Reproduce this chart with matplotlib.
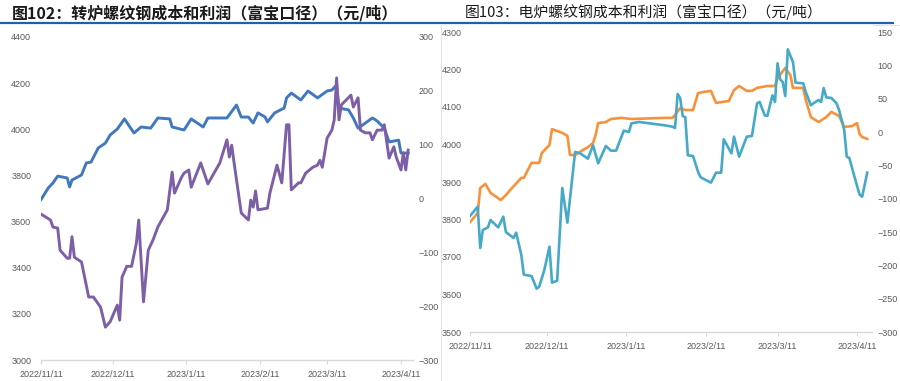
import matplotlib
matplotlib.use("Agg")
import matplotlib.pyplot as plt
import matplotlib.lines as mlines
import pandas as pd

plt.rcParams['font.family'] = ['Noto Sans CJK SC', 'DejaVu Sans']

START = "2022-11-11"

# ---------------- Left chart (图102) ----------------
left_title = "图102：转炉螺纹钢成本和利润（富宝口径）（元/吨）"
lc_days = [0, 3, 5, 7, 11, 12, 13, 17, 19, 21, 24, 27, 29, 32, 35, 39, 42, 46, 49, 54,
           55, 60, 63, 68, 70, 78, 82, 84, 87, 89, 91, 94, 95, 98, 102, 103, 105, 109, 112, 116,
           120, 122, 124, 125, 129, 131, 133, 135, 139, 141, 144, 146, 150, 151, 154]
lc_cost = [3695, 3745, 3767, 3797, 3789, 3750, 3780, 3802, 3854, 3858, 3919, 3940, 3975, 4001, 4045,
           3984, 4010, 4005, 4049, 4045, 4010, 3997, 4045, 4010, 4049, 4049, 4105, 4053, 4053, 4027,
           4071, 4053, 4032, 4071, 4092, 4136, 4157, 4127, 4166, 4136, 4166, 4170, 4192, 4092, 4084,
           4049, 4005, 4019, 4049, 4036, 4005, 3945, 3953, 3897, 3897]
lp_days = [0, 4, 5, 7, 8, 11, 12, 13, 14, 17, 20, 22, 25, 27, 29, 32, 33, 34, 36, 38,
           40, 41, 43, 45, 47, 49, 53, 55, 56, 59, 60, 62, 63, 67, 70, 75, 78, 79, 80, 81,
           84, 87, 88, 89, 90, 91, 95, 96, 99, 101, 103, 104, 105, 108, 109, 111, 114, 116, 117, 118,
           120, 122, 123, 124, 125, 126, 128, 130, 131, 133, 134, 136, 138, 139, 141, 143, 144, 146, 148, 149,
           151, 152, 153, 154]
lp_profit = [-29, -40, -53, -55, -96, -111, -111, -71, -109, -118, -183, -183, -202, -239, -229, -198, -226, -146, -126, -126,
             -83, -40, -192, -96, -77, -53, -21, 49, 10, 40, 47, 53, 21, 66, 27, 66, 109, 77, 99, 66,
             -27, -40, -3, -16, 14, -21, -18, 10, 62, 29, 137, 137, 16, 29, 29, 47, 58, 62, 71, 58,
             112, 127, 146, 224, 146, 174, 183, 192, 170, 187, 127, 122, 122, 109, 127, 127, 137, 75, 96, 77,
             53, 85, 53, 90]
l_yticks = [3000, 3200, 3400, 3600, 3800, 4000, 4200, 4400]
l_y2ticks = [-300, -200, -100, 0, 100, 200, 300]

# ---------------- Right chart (图103) ----------------
right_title = "图103：电炉螺纹钢成本和利润（富宝口径）（元/吨）"
rc_days = [0, 3, 4, 6, 8, 12, 14, 16, 20, 21, 24, 27, 28, 31, 32, 36, 38, 39, 41, 44,
           46, 48, 49, 50, 53, 55, 59, 63, 76, 79, 80, 82, 84, 87, 89, 91, 94, 96, 101, 103,
           105, 108, 110, 112, 116, 119, 120, 123, 125, 126, 130, 131, 133, 136, 139, 141, 144, 146, 149, 151,
           152, 153, 155]
rc_cost = [3793, 3817, 3884, 3895, 3871, 3852, 3865, 3881, 3911, 3911, 3951, 3951, 3977, 3999, 4041,
           4031, 4023, 3972, 3972, 3985, 3993, 4004, 4025, 4057, 4060, 4068, 4071, 4068, 4071, 4071,
           4079, 4097, 4092, 4092, 4137, 4140, 4143, 4111, 4116, 4145, 4156, 4143, 4143, 4151, 4156,
           4156, 4177, 4204, 4185, 4151, 4151, 4119, 4073, 4060, 4073, 4087, 4076, 4047, 4049, 4057,
           4028, 4020, 4015]
rp_days = [0, 3, 4, 5, 7, 8, 11, 13, 14, 17, 18, 20, 21, 24, 26, 27, 29, 31, 32, 34,
           36, 38, 41, 43, 46, 48, 50, 53, 55, 57, 60, 62, 63, 66, 76, 79, 80, 81, 82, 83,
           84, 85, 87, 89, 90, 94, 96, 98, 99, 102, 103, 105, 108, 110, 112, 113, 115, 116, 118, 119,
           120, 121, 122, 123, 124, 126, 127, 130, 131, 133, 134, 136, 137, 138, 139, 141, 143, 144, 146, 147,
           148, 150, 152, 153, 155]
rp_profit = [-126, -112, -174, -147, -143, -132, -143, -127, -150, -159, -151, -184, -214, -216, -235, -232, -207, -172, -226, -223,
             -84, -136, -30, -32, -40, -20, -47, -21, -28, -28, 2, 0, 13, 15, 10, 8, 6, 57, 51, 24,
             22, -35, -36, -60, -68, -76, -61, -61, -11, -32, -7, -37, -7, -6, 43, 45, 25, 24, 55, 45,
             103, 79, 75, 54, 124, 105, 74, 73, 60, 40, 43, 48, 45, 66, 52, 51, 43, 33, 3, -37,
             -39, -67, -94, -97, -61]
r_yticks = [3500, 3600, 3700, 3800, 3900, 4000, 4100, 4200, 4300]
r_y2ticks = [-300, -250, -200, -150, -100, -50, 0, 50, 100, 150]

x_tick_dates = ["2022-11-11", "2022-12-11", "2023-01-11", "2023-02-11", "2023-03-11", "2023-04-11"]
x_tick_labels = ["2022/11/11", "2022/12/11", "2023/1/11", "2023/2/11", "2023/3/11", "2023/4/11"]


def to_dates(days):
    return pd.Timestamp(START) + pd.to_timedelta(days, unit="D")


W, H = 900, 381
fig = plt.figure(figsize=(W / 100, H / 100), dpi=100)

TICK_FONT = dict(family=['Liberation Sans', 'DejaVu Sans'], size=6.5)
TICK_COLOR = "#595959"
SPINE_COLOR = "#d9d9d9"


def px_rect(x0, y0, x1, y1):
    return [x0 / W, 1 - y1 / H, (x1 - x0) / W, (y1 - y0) / H]


def style_axes(ax, ax2, yticks, y2ticks, ylim, y2lim, xend_days, lpad, rpad):
    ax.set_xlim(pd.Timestamp(START), pd.Timestamp(START) + pd.Timedelta(days=xend_days))
    ax.set_ylim(*ylim)
    ax2.set_ylim(*y2lim)
    ax.set_yticks(yticks)
    ax2.set_yticks(y2ticks)
    ax.set_xticks(pd.to_datetime(x_tick_dates))
    ax.set_xticklabels(x_tick_labels)
    for a in (ax, ax2):
        for s in ("top", "left", "right"):
            a.spines[s].set_visible(False)
        a.spines["bottom"].set_visible(False)
        a.set_facecolor("none")
    ax.spines["bottom"].set_visible(True)
    ax.spines["bottom"].set_color(SPINE_COLOR)
    ax.spines["bottom"].set_linewidth(1.0)
    ax.tick_params(axis="x", length=3, width=0.8, color=SPINE_COLOR, pad=4, labelcolor=TICK_COLOR)
    ax.tick_params(axis="y", length=0, pad=lpad, labelcolor=TICK_COLOR)
    ax2.tick_params(axis="y", length=0, pad=rpad, labelcolor=TICK_COLOR)
    for lab in ax.get_xticklabels() + ax.get_yticklabels() + ax2.get_yticklabels():
        lab.set_fontfamily(TICK_FONT['family'])
        lab.set_fontsize(TICK_FONT['size'])


# Left chart
axL = fig.add_axes(px_rect(41, 37, 413, 360))
axL2 = axL.twinx()
axL.plot(to_dates(lc_days), lc_cost, color="#4178BE", lw=2.1, solid_joinstyle="round")
axL2.plot(to_dates(lp_days), lp_profit, color="#7D5FA8", lw=2.1, solid_joinstyle="round")
style_axes(axL, axL2, l_yticks, l_y2ticks, (3000, 4400), (-300, 300), (413 - 41) / 2.384, 7, 4)

# Right chart
axR = fig.add_axes(px_rect(470, 32, 872, 332))
axR2 = axR.twinx()
axR.plot(to_dates(rc_days), rc_cost, color="#F7923A", lw=1.9, solid_joinstyle="round")
axR2.plot(to_dates(rp_days), rp_profit, color="#46A9C8", lw=1.9, solid_joinstyle="round")
style_axes(axR, axR2, r_yticks, r_y2ticks, (3500, 4300), (-300, 150), (872 - 470) / 2.563, 6, 4)

# Titles
fig.text(12 / W, 1 - 13 / H, left_title, fontsize=11.5, color="#1a1a1a", va="center", ha="left",
         fontweight="bold")
fig.text(465 / W, 1 - 12 / H, right_title, fontsize=10.7, color="#1a1a1a", va="center", ha="left")

# Blue rule under titles and separators
fig.add_artist(mlines.Line2D([0, 893 / W], [1 - 23 / H, 1 - 23 / H], color="#1F5FAD", lw=1.6,
                            transform=fig.transFigure))
fig.add_artist(mlines.Line2D([441 / W, 441 / W], [0, 1 - 25 / H], color="#e3e3e3", lw=0.8,
                            transform=fig.transFigure))
fig.add_artist(mlines.Line2D([873 / W, 1], [1 - 25 / H, 1 - 25 / H], color="#e3e3e3", lw=0.8,
                            transform=fig.transFigure))

fig.savefig("out.png", dpi=100)
